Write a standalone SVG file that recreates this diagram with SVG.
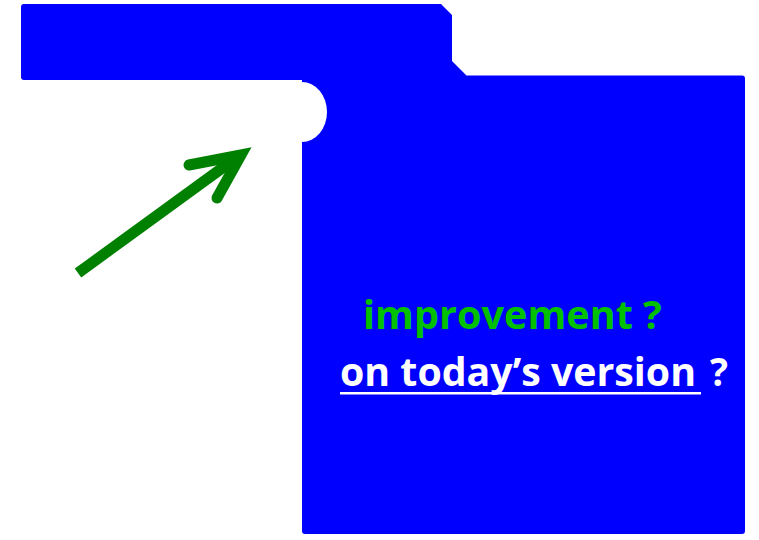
<svg xmlns="http://www.w3.org/2000/svg" width="759" height="540" viewBox="0 0 759 540">
<style>
.shape{fill:#0000FF;}
.t{font-family:"Open Sans","Liberation Sans",sans-serif;font-weight:bold;font-size:40px;}
.green{fill:#00C000;}
.white{fill:#FFFFFF;}
.arrow{fill:none;stroke:#008000;stroke-width:11;}
</style>
<rect width="759" height="540" fill="#FFFFFF"/>
<g id="shape">
<path class="shape" d="M24,4 H441 L452,15 V61 L466.5,75.5 H742 Q745,75.5 745,78.5 V531 Q745,534 742,534 H305 Q302,534 302,531 V142 A25,30 0 0 0 302,82 L302,80 H24 Q21,80 21,77 V7 Q21,4 24,4 Z"/>
</g>
<g id="connectors">
<line class="arrow" x1="78" y1="273" x2="236" y2="158" stroke-linecap="butt"/>
<polyline class="arrow" points="189,165 241,155 217,198" stroke-linecap="round" stroke-linejoin="miter"/>
</g>
<g id="labels">
<text class="t green" x="363" y="329" textLength="299" lengthAdjust="spacingAndGlyphs">improvement ?</text>
<text class="t white" x="340" y="386" textLength="356" lengthAdjust="spacingAndGlyphs">on today’s version</text>
<text class="t white" x="710" y="386" textLength="18" lengthAdjust="spacingAndGlyphs">?</text>
<rect class="white" x="340" y="392" width="361" height="2.5"/>
</g>
</svg>
